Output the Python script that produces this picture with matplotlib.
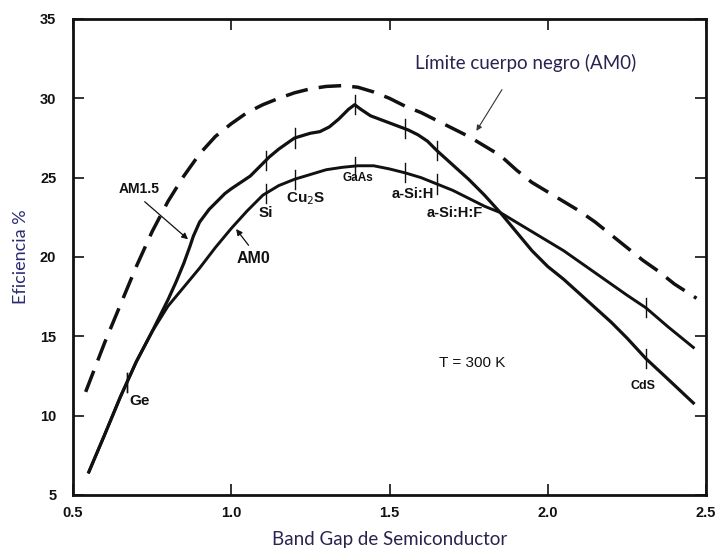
import numpy as np
import matplotlib
matplotlib.use("Agg")
import matplotlib.pyplot as plt

# ---- data ----
bb_x = [0.54, 0.60, 0.65, 0.70, 0.75, 0.80, 0.85, 0.90, 0.95, 1.00, 1.05, 1.10, 1.15, 1.20,
        1.25, 1.30, 1.35, 1.40, 1.45, 1.50, 1.55, 1.60, 1.65, 1.70, 1.75, 1.80, 1.85, 1.90,
        1.95, 2.00, 2.05, 2.10, 2.15, 2.20, 2.25, 2.30, 2.35, 2.40, 2.47]
bb_y = [11.5, 14.6, 17.0, 19.4, 21.6, 23.5, 25.1, 26.5, 27.6, 28.4, 29.1, 29.6, 30.0, 30.35,
        30.6, 30.75, 30.8, 30.7, 30.4, 30.0, 29.5, 29.1, 28.6, 28.1, 27.6, 27.0, 26.4, 25.5,
        24.7, 24.1, 23.5, 22.9, 22.2, 21.4, 20.6, 19.8, 19.1, 18.3, 17.4]

am15_x = [0.55, 0.60, 0.65, 0.70, 0.75, 0.775, 0.80, 0.825, 0.85, 0.87, 0.88, 0.90, 0.93,
          0.96, 0.98, 1.00, 1.03, 1.06, 1.09, 1.12, 1.15, 1.20, 1.25, 1.28, 1.31, 1.34,
          1.37, 1.39, 1.41, 1.44, 1.48, 1.52, 1.56, 1.59, 1.62, 1.65, 1.70, 1.75, 1.80,
          1.85, 1.90, 1.95, 2.00, 2.05, 2.10, 2.15, 2.20, 2.25, 2.31, 2.38, 2.46]
am15_y = [6.45, 8.8, 11.2, 13.4, 15.3, 16.3, 17.3, 18.4, 19.6, 20.7, 21.3, 22.2, 23.0,
          23.6, 24.0, 24.3, 24.7, 25.1, 25.7, 26.3, 26.8, 27.5, 27.8, 27.9, 28.2, 28.7,
          29.3, 29.6, 29.3, 28.9, 28.6, 28.3, 28.0, 27.7, 27.3, 26.7, 25.8, 24.9, 23.9,
          22.8, 21.6, 20.4, 19.4, 18.6, 17.7, 16.8, 15.9, 14.9, 13.6, 12.3, 10.8]

am0_x = [0.55, 0.60, 0.65, 0.70, 0.75, 0.80, 0.85, 0.90, 0.95, 1.00, 1.05, 1.10, 1.15,
         1.20, 1.25, 1.30, 1.35, 1.40, 1.45, 1.50, 1.55, 1.60, 1.65, 1.70, 1.75, 1.80,
         1.85, 1.90, 1.95, 2.00, 2.05, 2.10, 2.15, 2.20, 2.25, 2.31, 2.38, 2.46]
am0_y = [6.45, 8.8, 11.2, 13.4, 15.3, 16.9, 18.1, 19.3, 20.6, 21.8, 22.9, 23.9, 24.5,
         24.9, 25.2, 25.5, 25.65, 25.75, 25.75, 25.55, 25.3, 25.0, 24.6, 24.2, 23.7, 23.2,
         22.8, 22.2, 21.6, 21.0, 20.4, 19.7, 19.0, 18.3, 17.6, 16.8, 15.6, 14.3]

materials = ["Ge", "Si", "Cu$_2$S", "GaAs", "a-Si:H", "a-Si:H:F", "CdS"]
gaps = [0.67, 1.11, 1.20, 1.39, 1.55, 1.65, 2.31]

x_ticks = [0.5, 1.0, 1.5, 2.0, 2.5]
x_ticklabels = ["0.5", "1.0", "1.5", "2.0", "2.5"]
y_ticks = [5, 10, 15, 20, 25, 30, 35]

# ---- figure ----
W, H = 719, 550
fig = plt.figure(figsize=(W / 100, H / 100), dpi=100)
ax = fig.add_axes([73 / W, 55 / H, 633 / W, 476 / H])
ax.set_xlim(0.5, 2.5)
ax.set_ylim(5, 35)

ink = "#111111"
ax.plot(bb_x, bb_y, color=ink, lw=2.5, dashes=(6.5, 3.2), solid_capstyle="butt",
        solid_joinstyle="round")
ax.plot(am15_x, am15_y, color=ink, lw=2.3, solid_joinstyle="round")
ax.plot(am0_x, am0_y, color=ink, lw=2.1, solid_joinstyle="round")

# material tick marks on both curves
for g in gaps:
    for cx, cy in ((am15_x, am15_y), (am0_x, am0_y)):
        yv = np.interp(g, cx, cy)
        ax.plot([g, g], [yv - 0.6, yv + 0.6], color=ink, lw=1.0)

label_style = {
    "Ge": ((0.71, 10.9), 11),
    "Si": ((1.11, 22.8), 11),
    "Cu$_2$S": ((1.235, 23.7), 11),
    "GaAs": ((1.40, 25.0), 8.5),
    "a-Si:H": ((1.575, 24.0), 10.5),
    "a-Si:H:F": ((1.705, 22.8), 10.5),
    "CdS": ((2.30, 11.9), 9),
}
for m in materials:
    (px, py), fs = label_style[m]
    ax.text(px, py, m, ha="center", va="center", family="Liberation Sans",
            fontsize=fs, color=ink, fontweight="bold")

ax.text(1.76, 13.3, "T = 300 K", ha="center", va="center", family="Liberation Sans",
        fontsize=11, color=ink)
ax.text(0.71, 24.3, "AM1.5", ha="center", va="center", family="Liberation Sans",
        fontsize=10, color=ink, fontweight="bold")
ax.annotate("", xy=(0.87, 21.0), xytext=(0.72, 23.6),
            arrowprops=dict(arrowstyle="-|>", color=ink, lw=0.9, mutation_scale=9))
ax.text(1.07, 19.9, "AM0", ha="center", va="center", family="Liberation Sans",
        fontsize=11.5, color=ink, fontweight="bold")
ax.annotate("", xy=(1.01, 21.9), xytext=(1.06, 20.6),
            arrowprops=dict(arrowstyle="-|>", color=ink, lw=0.9, mutation_scale=9))

txt_col = "#2b2250"
ax.text(1.93, 32.2, "Límite cuerpo negro (AM0)", ha="center", va="center",
        family="Lato", fontsize=13.5, color=txt_col)
ax.annotate("", xy=(1.77, 27.8), xytext=(1.86, 30.7),
            arrowprops=dict(arrowstyle="-|>", color="#333333", lw=0.8, mutation_scale=8))

# axes styling
for s in ax.spines.values():
    s.set_linewidth(2.0)
    s.set_color(ink)
ax.set_xticks(x_ticks)
ax.set_xticklabels(x_ticklabels)
ax.set_yticks(y_ticks)
ax.tick_params(direction="in", length=8, width=1.2, top=True, right=True,
               labelsize=10.5, colors=ink)
ax.tick_params(axis="y", pad=12)
ax.tick_params(axis="x", pad=8)
for t in ax.get_xticklabels() + ax.get_yticklabels():
    t.set_family("Liberation Sans")
    t.set_fontweight("bold")

ax.set_xlabel("Band Gap de Semiconductor", family="Lato", fontsize=13.5,
              color=txt_col, labelpad=8)
ax.set_ylabel("Eficiencia %", family="Lato", fontsize=13, color="#2b2b70",
              labelpad=8)

fig.savefig("out.png", dpi=100)
